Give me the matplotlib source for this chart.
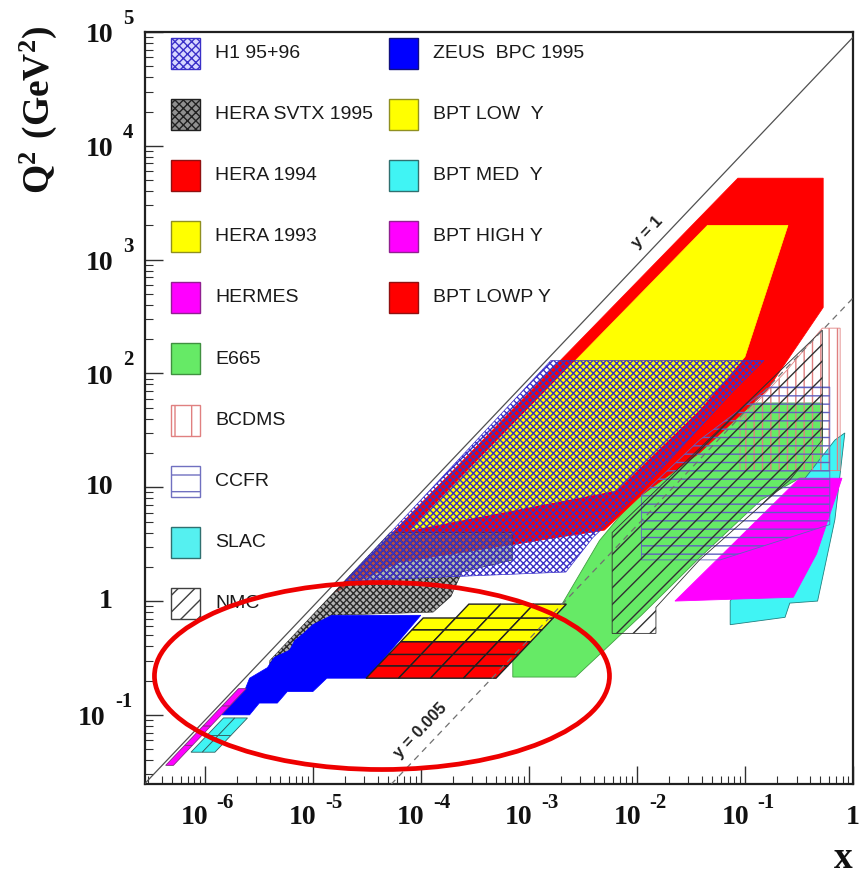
import matplotlib
matplotlib.use("Agg")
import matplotlib.pyplot as plt
from matplotlib.patches import Polygon, Rectangle, Ellipse
from matplotlib.transforms import offset_copy

plt.rcParams['hatch.linewidth'] = 1.0
plt.rcParams['mathtext.fontset'] = 'custom'
plt.rcParams['mathtext.rm'] = 'Liberation Serif:bold'
plt.rcParams['mathtext.bf'] = 'Liberation Serif:bold'

# ---- data (x, Q^2 in GeV^2) ----
y1_x = [2.8e-7, 1.0]
y1_q2 = [0.025, 9.0e4]
y005_x = [5.3e-5, 1.0]
y005_q2 = [0.0245, 460]

hera94_x = [0.086, 0.53, 0.53, 0.16, 0.038, 0.011, 0.005, 6.4e-5, 1.6e-5]
hera94_q2 = [5200, 5200, 380, 71, 20, 8.5, 4.2, 2.2, 1.2]
hera93_x = [0.045, 0.25, 0.10, 0.038, 0.0065, 7.9e-5]
hera93_q2 = [2000, 2000, 140, 48, 9.4, 4.2]
h1_x = [0.0016, 0.15, 0.077, 0.011, 0.0039, 0.0022, 2.0e-5]
h1_q2 = [130, 130, 69, 9.4, 3.6, 1.8, 1.5]
svtx_x = [5.2e-5, 7.1e-4, 7.1e-4, 2.4e-4, 1.9e-4, 1.3e-4, 1.5e-5, 4.0e-6, 4.0e-6]
svtx_q2 = [4.0, 4.0, 2.3, 1.8, 1.1, 0.8, 0.75, 0.26, 0.30]
zeus_x = [1.0e-4, 3.2e-5, 1.35e-5, 1.0e-5, 5.8e-6, 4.7e-6, 3.2e-6, 2.6e-6,
          1.45e-6, 1.8e-6, 2.35e-6, 2.6e-6, 3.8e-6, 4.4e-6, 6.1e-6, 6.8e-6,
          8.4e-6, 1.0e-5, 1.5e-5]
zeus_q2 = [0.75, 0.21, 0.21, 0.16, 0.16, 0.127, 0.127, 0.10,
           0.10, 0.135, 0.165, 0.21, 0.26, 0.32, 0.37, 0.45, 0.53, 0.62, 0.75]
e665_x = [7.1e-4, 7.1e-4, 2.7e-3, 0.011, 0.038, 0.14, 0.32, 0.52, 0.52, 0.12,
          0.031, 0.011, 0.0045, 0.002]
e665_q2 = [0.32, 0.215, 0.215, 0.75, 2.4, 7.7, 12, 12, 55, 55, 21, 9.4, 3.4, 0.92]
nmc_x = [0.0059, 0.015, 0.015, 0.038, 0.26, 0.52, 0.52, 0.0059]
nmc_q2 = [0.52, 0.52, 0.88, 2.3, 11.6, 26, 240, 4.0]
bcdms_x = [0.09, 0.76, 0.76, 0.52, 0.245, 0.09]
bcdms_q2 = [14, 14, 250, 250, 107, 39]
ccfr_x = [0.011, 0.059, 0.61, 0.61, 0.17, 0.038, 0.011]
ccfr_q2 = [2.3, 2.3, 4.7, 76, 76, 26, 8.5]
slac_x = [0.073, 0.235, 0.26, 0.47, 0.68, 0.84, 0.68, 0.36, 0.073]
slac_q2 = [0.62, 0.72, 0.96, 1.0, 5.2, 30, 26, 12, 1.0]
hermes_x = [0.0225, 0.28, 0.46, 0.79, 0.32]
hermes_q2 = [1.0, 1.08, 2.6, 12, 12]

# BPT bins (in Q^2 and y), x = Q^2 / (s y)
s_hera = 9.0e4
bpt_q2_edges = [0.21, 0.27, 0.34, 0.44, 0.56, 0.71, 0.94]
bpt_y_edges = [0.075, 0.0375, 0.019, 0.0094, 0.0047]
bpt_med_q2 = [0.047, 0.066, 0.094]
bpt_med_y = [0.70, 0.55, 0.42]
bpt_high_q2 = [0.036, 0.054, 0.08, 0.12, 0.17]
bpt_high_y = [0.92, 0.78]

x_ticks = [1e-6, 1e-5, 1e-4, 1e-3, 1e-2, 1e-1]
x_exps = ['-6', '-5', '-4', '-3', '-2', '-1']
y_ticks = [1e5, 1e4, 1e3, 1e2, 1e-1]
y_exps = ['5', '4', '3', '2', '-1']

legend_col1 = ['H1 95+96', 'HERA SVTX 1995', 'HERA 1994', 'HERA 1993', 'HERMES',
               'E665', 'BCDMS', 'CCFR', 'SLAC', 'NMC']
legend_col2 = ['ZEUS  BPC 1995', 'BPT LOW  Y', 'BPT MED  Y', 'BPT HIGH Y', 'BPT LOWP Y']

RED, YEL, BLU = '#ff0000', '#ffff00', '#0000ff'
GRN, CYA, MAG = '#66ea66', '#40f4f4', '#ff00ff'
H1C = '#3a30c8'

W, H = 866, 880
L, R, T, B = 145, 853, 32, 784
fig = plt.figure(figsize=(W / 100, H / 100), dpi=100)
ax = fig.add_axes([L / W, 1 - B / H, (R - L) / W, (B - T) / H])
ax.set_xscale('log')
ax.set_yscale('log')
ax.set_xlim(2.8e-7, 1.0)
ax.set_ylim(0.0247, 1e5)


def poly(xs, qs, **kw):
    p = Polygon(list(zip(xs, qs)), closed=True, **kw)
    ax.add_patch(p)
    return p


def cell(q_lo, q_hi, y_hi, y_lo):
    return [(q_lo / (s_hera * y_hi), q_lo), (q_lo / (s_hera * y_lo), q_lo),
            (q_hi / (s_hera * y_lo), q_hi), (q_hi / (s_hera * y_hi), q_hi)]


poly(e665_x, e665_q2, facecolor=GRN, edgecolor='#40a040', lw=0.6, zorder=1)
poly(slac_x, slac_q2, facecolor=CYA, edgecolor='#208080', lw=0.6, zorder=1.2)
poly(hermes_x, hermes_q2, facecolor=MAG, edgecolor=MAG, lw=0.6, zorder=1.3)
poly(hera94_x, hera94_q2, facecolor=RED, edgecolor=RED, lw=0.5, zorder=2)
poly(hera93_x, hera93_q2, facecolor=YEL, edgecolor=YEL, lw=0.5, zorder=2.1)
poly(svtx_x, svtx_q2, facecolor=(0.5, 0.5, 0.5, 0.6), edgecolor='#2a2a2a',
     hatch='xxxxx', lw=0.4, zorder=2.5)
poly(zeus_x, zeus_q2, facecolor=BLU, edgecolor=BLU, lw=0.5, zorder=2.6)
poly(h1_x, h1_q2, facecolor='none', edgecolor=H1C, hatch='xxxxx', lw=0.5, zorder=3)
poly(nmc_x, nmc_q2, facecolor='none', edgecolor='#303030', hatch='//', lw=0.6, zorder=3.5)
poly(ccfr_x, ccfr_q2, facecolor='none', edgecolor='#6060c0', hatch='--', lw=0.6, zorder=3.4)
poly(bcdms_x, bcdms_q2, facecolor='none', edgecolor='#e08080', hatch='||', lw=0.6, zorder=3.3)

# BPT grids
for i in range(len(bpt_q2_edges) - 1):
    for j in range(len(bpt_y_edges) - 1):
        if i == len(bpt_q2_edges) - 2 and j == 0:
            continue
        col = RED if i < 3 else YEL
        ax.add_patch(Polygon(cell(bpt_q2_edges[i], bpt_q2_edges[i + 1],
                                  bpt_y_edges[j], bpt_y_edges[j + 1]),
                             facecolor=col, edgecolor='#202020', lw=1.0, zorder=4))
for i in range(len(bpt_med_q2) - 1):
    for j in range(len(bpt_med_y) - 1):
        ax.add_patch(Polygon(cell(bpt_med_q2[i], bpt_med_q2[i + 1],
                                  bpt_med_y[j], bpt_med_y[j + 1]),
                             facecolor=CYA, edgecolor='#306060', lw=0.6, zorder=4))
for i in range(len(bpt_high_q2) - 1):
    ax.add_patch(Polygon(cell(bpt_high_q2[i], bpt_high_q2[i + 1],
                              bpt_high_y[0], bpt_high_y[1]),
                         facecolor=MAG, edgecolor='#803080', lw=0.6, zorder=4))

# kinematic lines
ax.plot(y1_x, y1_q2, color='#505050', lw=0.9, zorder=4.5)
ax.plot(y005_x, y005_q2, color='#707070', lw=0.9, ls=(0, (5, 4)), zorder=4.5)
ax.text(0.0124, 1750, 'y = 1', rotation=46.5, ha='center', va='center',
        fontsize=12, fontweight='bold', family='Liberation Sans', color='#202020')
ax.text(1.0e-4, 0.072, 'y = 0.005', rotation=46.5, ha='center', va='center',
        fontsize=12, fontweight='bold', family='Liberation Sans', color='#202020')

# axes styling
for sp in ax.spines.values():
    sp.set_linewidth(1.6)
    sp.set_color('#202020')
ax.tick_params(which='both', direction='in', top=False, right=False,
               labelbottom=False, labelleft=False, color='#303030')
ax.tick_params(which='major', length=13, width=1.0)
ax.tick_params(which='minor', length=5.5, width=0.8)

serif = dict(family='Liberation Serif', fontweight='bold', color='#111111')
xtr = ax.get_xaxis_transform()
for v, e in zip(x_ticks, x_exps):
    ax.text(v, -0.045, '10', transform=offset_copy(xtr, fig, x=4, units='dots'),
            ha='right', va='center', fontsize=20, **serif)
    ax.text(v, -0.025, e, transform=offset_copy(xtr, fig, x=12, units='dots'),
            ha='left', va='center', fontsize=15, **serif)
ax.text(1.0, -0.045, '1', transform=xtr, ha='center', va='center', fontsize=20, **serif)

ytr = ax.get_yaxis_transform()
for v, e in zip(y_ticks, y_exps):
    neg = e.startswith('-')
    xr = -0.0565 if neg else -0.045
    xe = -0.0424 if neg else -0.031
    ax.text(xr, v, '10', transform=offset_copy(ytr, fig, y=-4, units='dots'),
            ha='right', va='center', fontsize=20, **serif)
    ax.text(xe, v, e, transform=offset_copy(ytr, fig, y=13, units='dots'),
            ha='left', va='center', fontsize=15, **serif)
ax.text(-0.045, 10, '10', transform=ytr, ha='right', va='center', fontsize=20, **serif)
ax.text(-0.046, 1, '1', transform=ytr, ha='right', va='center', fontsize=20, **serif)

fig.text(38 / W, 1 - 110 / H, r'$\mathbf{Q^2\ (GeV^2)}$', rotation=90, ha='center',
         va='center', fontsize=27, color='#111111')
fig.text(843 / W, 1 - 868 / H, 'x', ha='center', va='baseline', fontsize=27, **serif)

# legend
styles = {
    'H1 95+96': dict(facecolor='#d8d8ff', edgecolor=H1C, hatch='xxxx'),
    'HERA SVTX 1995': dict(facecolor='#909090', edgecolor='#202020', hatch='xxxx'),
    'HERA 1994': dict(facecolor=RED, edgecolor='#901010'),
    'HERA 1993': dict(facecolor=YEL, edgecolor='#909020'),
    'HERMES': dict(facecolor=MAG, edgecolor='#902090'),
    'E665': dict(facecolor=GRN, edgecolor='#409040'),
    'BCDMS': dict(facecolor='white', edgecolor='#e08080', hatch='|'),
    'CCFR': dict(facecolor='white', edgecolor='#7070c0', hatch='-'),
    'SLAC': dict(facecolor='#55f0f0', edgecolor='#307070'),
    'NMC': dict(facecolor='white', edgecolor='#404040', hatch='//'),
    'ZEUS  BPC 1995': dict(facecolor=BLU, edgecolor='#101080'),
    'BPT LOW  Y': dict(facecolor=YEL, edgecolor='#909020'),
    'BPT MED  Y': dict(facecolor=CYA, edgecolor='#307070'),
    'BPT HIGH Y': dict(facecolor=MAG, edgecolor='#902090'),
    'BPT LOWP Y': dict(facecolor=RED, edgecolor='#901010'),
}


def ax_frac(px, py):
    return (px - L) / (R - L), (B - py) / (B - T)


pw, ph = 29 / (R - L), 31 / (B - T)
for col_x, txt_x, labels in [(171, 215, legend_col1), (389, 433, legend_col2)]:
    for i, lab in enumerate(labels):
        py = 53 + 61.2 * i
        x0, yc = ax_frac(col_x, py)
        ax.add_patch(Rectangle((x0, yc - ph / 2), pw, ph, transform=ax.transAxes,
                               lw=1.0, zorder=6, **styles[lab]))
        tx, _ = ax_frac(txt_x, py)
        ax.text(tx, yc, lab, transform=ax.transAxes, ha='left', va='center',
                fontsize=14, family='Liberation Sans', color='#1a1a1a', zorder=6)

# highlight ellipse
ax.add_patch(Ellipse((0.3347, 0.1436), 0.6427, 0.2487, transform=ax.transAxes,
                     fill=False, edgecolor='#ee0000', lw=3.4, zorder=10, clip_on=False))

fig.savefig('out.png', dpi=100)
